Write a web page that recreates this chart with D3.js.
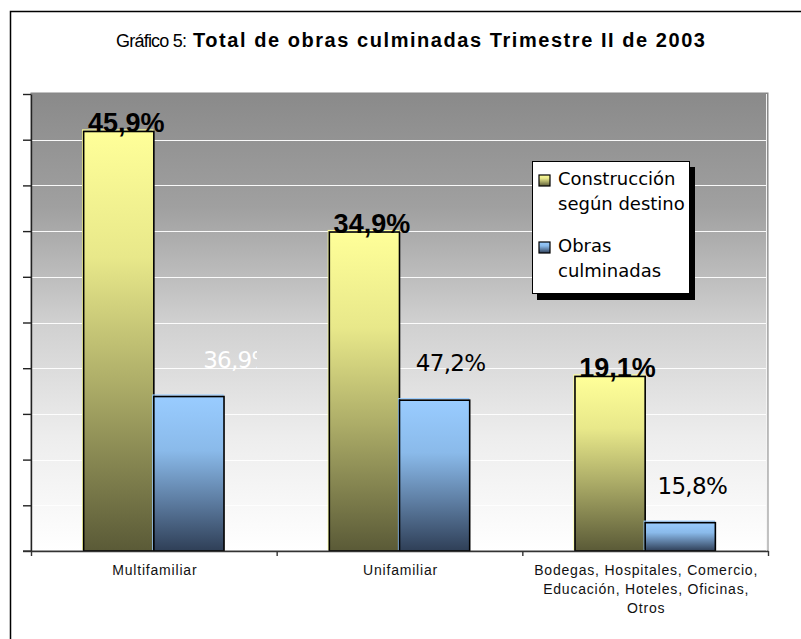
<!DOCTYPE html>
<html>
<head>
<meta charset="utf-8">
<script src="https://cdn.jsdelivr.net/npm/d3@7"></script>
<style>
  body { margin: 0; background: #ffffff; }
  svg { display: block; }
</style>
</head>
<body>
<script>
// ---------- DATA ----------
const categories = [
  ["Multifamiliar"],
  ["Unifamiliar"],
  ["Bodegas, Hospitales, Comercio,", "Educación, Hoteles, Oficinas,", "Otros"]
];
const seriesNames = [["Construcción", "según destino"], ["Obras", "culminadas"]];
const construccion = [45.9, 34.9, 19.1];          // bar heights (%)
const obras = [16.9, 16.5, 3.1];                  // bar heights as drawn
const obrasLabels = ["36,9%", "47,2%", "15,8%"];  // labels shown over blue bars
const yTicks = [0, 5, 10, 15, 20, 25, 30, 35, 40, 45, 50];

// ---------- LAYOUT ----------
const W = 801, H = 639;
const plot = { left: 31, right: 768, top: 93, bottom: 551 };
const obrasLabelDx = [49, 16, 12];

const svg = d3.select("body").append("svg").attr("width", W).attr("height", H);
const defs = svg.append("defs");

function grad(id, stops) {
  const g = defs.append("linearGradient").attr("id", id)
    .attr("x1", 0).attr("y1", 0).attr("x2", 0).attr("y2", 1);
  stops.forEach(s => g.append("stop").attr("offset", s[0]).attr("stop-color", s[1]));
}
grad("bgGrad", [[0, "#8a8a8a"], [0.25, "#a0a0a0"], [0.5, "#d0d0d0"], [0.75, "#ededed"], [1, "#ffffff"]]);
grad("yelGrad", [[0, "#ffff99"], [0.3, "#e8e88a"], [0.6, "#adad68"], [1, "#5a5a37"]]);
grad("bluGrad", [[0, "#99ccff"], [0.35, "#8abaea"], [0.67, "#5e7ea3"], [1, "#2f3f57"]]);

// chart frame
svg.append("rect").attr("x", 10.5).attr("y", 11.5).attr("width", 840).attr("height", 700)
  .attr("fill", "none").attr("stroke", "#000").attr("stroke-width", 1.5);

// scales
const x = d3.scaleBand().domain(d3.range(categories.length))
  .range([plot.left, plot.right]).paddingInner(0).paddingOuter(0);
const xs = d3.scaleBand().domain([0, 1]).range([0, x.bandwidth()]).paddingInner(0).paddingOuter(0.75);
const y = d3.scaleLinear().domain([0, 50]).range([plot.bottom, plot.top + 1]);
const xb = d3.scaleLinear().domain([0, categories.length]).range([plot.left, plot.right]);

// plot background
svg.append("rect").attr("x", plot.left).attr("y", plot.top)
  .attr("width", plot.right - plot.left).attr("height", plot.bottom - plot.top)
  .attr("fill", "url(#bgGrad)").attr("stroke", "#858585").attr("stroke-width", 1);
svg.append("line").attr("x1", plot.right - 1.5).attr("x2", plot.right - 1.5)
  .attr("y1", plot.top + 1).attr("y2", plot.bottom).attr("stroke", "#f4f4f4");

// gridlines
svg.append("g").selectAll("line").data(yTicks.slice(1, -1)).join("line")
  .attr("x1", plot.left).attr("x2", plot.right - 2)
  .attr("y1", d => Math.round(y(d)) + 0.5).attr("y2", d => Math.round(y(d)) + 0.5)
  .attr("stroke", "#ffffff").attr("stroke-width", 1.2).attr("opacity", 0.95);

// bars
const bars = svg.append("g");
function drawBars(values, idx, fill, edge) {
  const g = bars.append("g");
  g.selectAll("rect.edge").data(values).join("rect").attr("class", "edge")
    .attr("x", (d, i) => x(i) + xs(idx) - 1)
    .attr("y", d => y(d) - 1.5)
    .attr("width", xs.bandwidth())
    .attr("height", d => y(0) - y(d))
    .attr("fill", "none").attr("stroke", edge).attr("stroke-width", 1.2);
  g.selectAll("rect.bar").data(values).join("rect").attr("class", "bar")
    .attr("x", (d, i) => x(i) + xs(idx))
    .attr("y", d => y(d))
    .attr("width", xs.bandwidth())
    .attr("height", d => y(0) - y(d))
    .attr("fill", fill).attr("stroke", "#000").attr("stroke-width", 1.6);
}
drawBars(construccion, 0, "url(#yelGrad)", "#ffff99");
drawBars(obras, 1, "url(#bluGrad)", "#99ccff");

// y axis
const yAxis = svg.append("g").attr("transform", `translate(${plot.left},0)`)
  .call(d3.axisLeft(y).tickValues(yTicks).tickSize(8).tickSizeOuter(0).tickFormat(""));
yAxis.selectAll("path, line").attr("stroke", "#222").attr("stroke-width", 1.4);

// x axis (ticks at category boundaries)
const xAxis = svg.append("g").attr("transform", `translate(0,${plot.bottom})`)
  .call(d3.axisBottom(xb).tickValues(d3.range(categories.length + 1)).tickSize(5).tickSizeOuter(0).tickFormat(""));
xAxis.selectAll("path, line").attr("stroke", "#333").attr("stroke-width", 1.4);
svg.append("line").attr("x1", plot.left - 8).attr("x2", plot.left)
  .attr("y1", plot.bottom).attr("y2", plot.bottom).attr("stroke", "#333").attr("stroke-width", 1.4);

// category labels
const catG = svg.append("g").attr("font-family", "Liberation Sans, Arial, sans-serif")
  .attr("font-size", 14).attr("letter-spacing", 0.8).attr("fill", "#111").attr("text-anchor", "middle");
categories.forEach((lines, i) => {
  const t = catG.append("text");
  lines.forEach((ln, j) => {
    t.append("tspan").attr("x", x(i) + x.bandwidth() / 2 + 1).attr("y", 575 + j * 19).text(ln);
  });
});

// data labels - construccion (bold)
svg.append("g").selectAll("text").data(construccion).join("text")
  .attr("x", (d, i) => x(i) + xs(0) + xs.bandwidth() / 2 + 7.5)
  .attr("y", d => y(d) + 0.5)
  .attr("text-anchor", "middle")
  .attr("font-family", "Liberation Sans, Arial, sans-serif")
  .attr("font-weight", "bold").attr("font-size", 27).attr("fill", "#000")
  .text(d => d.toFixed(1).replace(".", ",") + "%");

// data labels - obras
defs.append("clipPath").attr("id", "clipLbl0").append("rect")
  .attr("x", x(0) + xs(1)).attr("y", 300).attr("width", 257 - (x(0) + xs(1))).attr("height", 120);
svg.append("g").selectAll("text").data(obras).join("text")
  .attr("x", (d, i) => x(i) + xs(1) + xs.bandwidth() / 2 + obrasLabelDx[i])
  .attr("y", d => y(d) - 29)
  .attr("text-anchor", "middle")
  .attr("font-family", "DejaVu Sans, Verdana, sans-serif")
  .attr("font-size", 23).attr("letter-spacing", -0.7)
  .attr("fill", (d, i) => i === 0 ? "#ffffff" : "#000")
  .attr("clip-path", (d, i) => i === 0 ? "url(#clipLbl0)" : null)
  .text((d, i) => obrasLabels[i]);

// legend
const lg = svg.append("g");
lg.append("rect").attr("x", 537).attr("y", 167).attr("width", 158).attr("height", 133).attr("fill", "#000");
lg.append("rect").attr("x", 532.5).attr("y", 161.5).attr("width", 157).attr("height", 132)
  .attr("fill", "#fff").attr("stroke", "#000").attr("stroke-width", 1);
const swFill = ["url(#yelGrad)", "url(#bluGrad)"];
const itemY = [185, 252];
seriesNames.forEach((lines, i) => {
  lg.append("rect").attr("x", 539).attr("y", itemY[i] - 10).attr("width", 11).attr("height", 11)
    .attr("fill", swFill[i]).attr("stroke", "#000").attr("stroke-width", 1.2);
  const t = lg.append("text").attr("font-family", "DejaVu Sans, Verdana, sans-serif")
    .attr("font-size", 18).attr("fill", "#000");
  lines.forEach((ln, j) => t.append("tspan").attr("x", 558).attr("y", itemY[i] + j * 25).text(ln));
});

// title
const title = svg.append("text").attr("y", 47).attr("font-family", "Liberation Sans, Arial, sans-serif").attr("fill", "#000");
const t1 = title.append("tspan").attr("x", 116).attr("font-size", 18).text("Gráfico 5:");
const t2 = title.append("tspan").attr("x", 193).attr("font-size", 20).attr("font-weight", "bold")
  .text("Total de obras culminadas Trimestre II de 2003");
function fit(sel, target) {
  const n = sel.text().length;
  const w = sel.node().getComputedTextLength();
  sel.attr("letter-spacing", (target - w) / (n - 1));
}
fit(t1, 71);
fit(t2, 512);
</script>
</body>
</html>
